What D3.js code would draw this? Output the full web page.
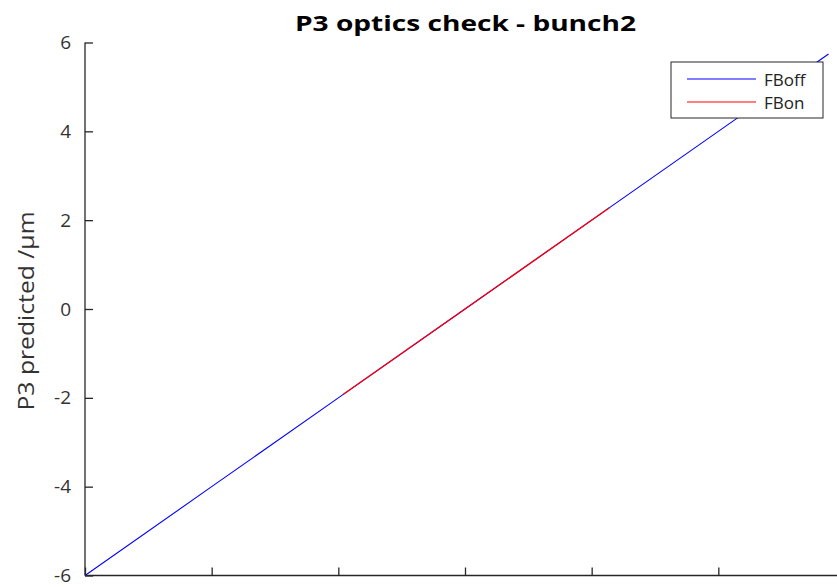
<!DOCTYPE html>
<html><head><meta charset="utf-8">
<script src="https://cdn.jsdelivr.net/npm/d3@7"></script>
<style>body{margin:0;background:#fff;} svg{display:block;}</style>
</head><body>
<svg id="c" width="837" height="587"></svg>
<script>
const title = "P3 optics check - bunch2";
const yLabel = "P3 predicted /\u03BCm";
const yTicks = [-6, -4, -2, 0, 2, 4, 6];
const xTicks = [-6, -4, -2, 0, 2, 4, 6];
const fbOffX = [-6, -4, -2, 0, 2, 4, 5.74];
const fbOffY = [-6, -4, -2, 0, 2, 4, 5.74];
const fbOnX = [-1.92, 0, 2.28];
const fbOnY = [-1.92, 0, 2.28];
const seriesNames = ["FBoff", "FBon"];
const seriesColors = ["#0000ff", "#ff0000"];

const svg = d3.select("#c");
const axisColor = "#262626";
const font = "'Open Sans', sans-serif";
const m = {left: 85, right: 845, top: 42.5, bottom: 575.5};
const x = d3.scaleLinear().domain([-6, 6]).range([m.left, m.right]);
const y = d3.scaleLinear().domain([-6, 6]).range([m.bottom, m.top]);

const line = d3.line().x(d => x(d[0])).y(d => y(d[1]));
const offData = fbOffX.map((v, i) => [v, fbOffY[i]]);
const onData = fbOnX.map((v, i) => [v, fbOnY[i]]);
svg.append("path").datum(offData).attr("d", line).attr("fill", "none")
  .attr("stroke", seriesColors[0]).attr("stroke-width", 1.1);
svg.append("path").datum(onData).attr("d", line).attr("fill", "none")
  .attr("stroke", seriesColors[1]).attr("stroke-width", 1.3);

// y axis
const yAxis = d3.axisLeft(y).tickValues(yTicks).tickSize(-8).tickPadding(14)
  .tickFormat(d => d < 0 ? "-" + Math.abs(d) : d);
const gy = svg.append("g").attr("transform", `translate(${m.left},0)`).call(yAxis);
gy.select(".domain").attr("stroke", axisColor).attr("stroke-width", 1.3).attr("d", `M0,${m.bottom}V${m.top}`);
gy.selectAll(".tick line").attr("stroke", axisColor).attr("stroke-width", 1.3);
gy.selectAll(".tick text").attr("fill", "#333").style("font-family", font).style("font-size", "19px");

// x axis
const xAxis = d3.axisBottom(x).tickValues(xTicks).tickSize(-8).tickFormat("");
const gx = svg.append("g").attr("transform", `translate(0,${m.bottom})`).call(xAxis);
gx.select(".domain").attr("stroke", axisColor).attr("stroke-width", 1.3).attr("d", `M${m.left},0H${m.right}`);
gx.selectAll(".tick line").attr("stroke", axisColor).attr("stroke-width", 1.3);

// title
svg.append("text").attr("x", 465.5).attr("y", 31).attr("text-anchor", "middle")
  .style("font-family", font).style("font-weight", "bold").style("font-size", "21px")
  .attr("textLength", 341).attr("lengthAdjust", "spacingAndGlyphs")
  .attr("fill", "#000").text(title);

// y label
svg.append("text").attr("transform", `translate(34,${(m.top + m.bottom) / 2 + 2}) rotate(-90)`)
  .attr("text-anchor", "middle").style("font-family", font).style("font-size", "21px")
  .attr("textLength", 199).attr("lengthAdjust", "spacingAndGlyphs")
  .attr("fill", "#333").text(yLabel);

// legend
const lg = svg.append("g");
lg.append("rect").attr("x", 671).attr("y", 62).attr("width", 152).attr("height", 56)
  .attr("fill", "#fff").attr("stroke", axisColor).attr("stroke-width", 1);
seriesNames.forEach((n, i) => {
  const ly = 79 + i * 23;
  lg.append("line").attr("x1", 687).attr("x2", 756).attr("y1", ly).attr("y2", ly)
    .attr("stroke", seriesColors[i]).attr("stroke-width", 1.2);
  lg.append("text").attr("x", 764).attr("y", ly + 6.5).style("font-family", font)
    .style("font-size", "17px").attr("fill", "#222").text(n);
});
</script>
</body></html>
